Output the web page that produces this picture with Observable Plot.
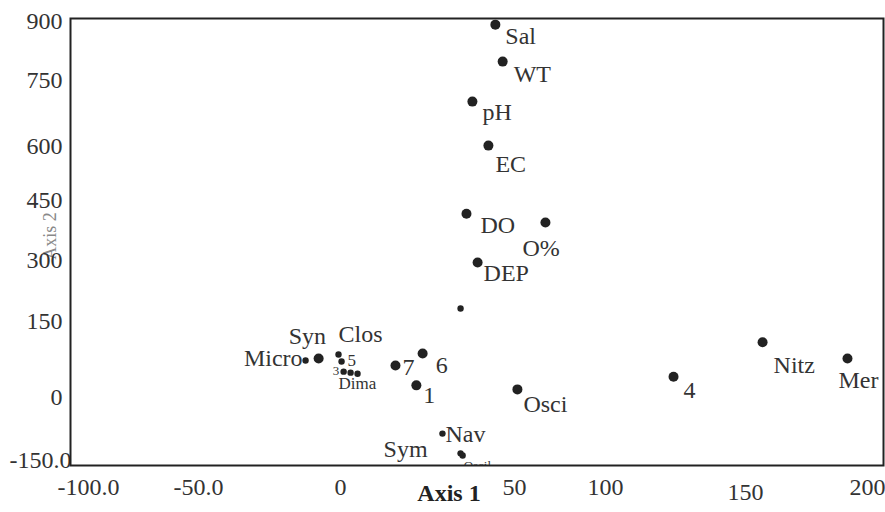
<!DOCTYPE html>
<html>
<head>
<meta charset="utf-8">
<script src="https://cdn.jsdelivr.net/npm/d3@7"></script>
<script src="https://cdn.jsdelivr.net/npm/@observablehq/plot@0.6"></script>
<style>
  html, body { margin: 0; padding: 0; background: white; }
</style>
</head>
<body>
<div id="chart"></div>
<script>
// ---- data ----
const names = ["Sal","WT","pH","EC","DO","O%","DEP","","Osci","4","Nitz","Mer","Micro","Syn","Clos","5","3","Dima","","7","6","1","Nav","Sym","Oscil"];
const axis1 = [44.5,46.6,37.9,42.5,36.2,67,39.4,34.5,51.6,124.3,157,191.8,-12.3,-7.7,-0.7,0.3,0.9,2.9,4.9,15.8,23.6,21.8,29.3,34.5,35.1];
const axis2 = [892,798,702,602,417,395,295,182,16,41,109,77,73,77,85,71,51,49,47,63,87,24,-86,-133,-138];
const xTicks = [-100,-50,0,50,100,150,200];
const xTickLabels = ["-100.0","-50.0","0","50","100","150","200"];
const yTicks = [-150,0,150,300,450,600,750,900];
const yTickLabels = ["-150.0","0","150","300","450","600","750","900"];

const points = names.map((name, i) => ({name, a1: axis1[i], a2: axis2[i]}));

// ---- label styling ----
const labelLayout = {
  "Sal": {dx: 10, dy: 12}, "WT": {dx: 11, dy: 13}, "pH": {dx: 10, dy: 11},
  "EC": {dx: 7, dy: 19}, "DO": {dx: 14, dy: 12}, "O%": {dx: -23, dy: 26},
  "DEP": {dx: 6, dy: 11}, "Osci": {dx: 6, dy: 15}, "4": {dx: 10, dy: 14},
  "Nitz": {dx: 11, dy: 23}, "Mer": {dx: -9, dy: 22},
  "Micro": {dx: -3, dy: -2, anchor: "end"}, "Syn": {dx: -30, dy: -22},
  "Clos": {dx: 0, dy: -20}, "5": {dx: 6, dy: -1, size: 17},
  "3": {dx: -11, dy: -1, size: 13}, "Dima": {dx: -12, dy: 11, size: 17},
  "7": {dx: 7, dy: 2}, "6": {dx: 13, dy: 12}, "1": {dx: 7, dy: 10},
  "Nav": {dx: 3, dy: 1}, "Sym": {dx: -33, dy: -4, anchor: "end"},
  "Oscil": {dx: 1, dy: 10, size: 13, clip: true}
};
const smallDots = new Set(["Micro","Clos","5","3","Dima","","Nav","Sym","Oscil"]);

const xLab = new Map(xTicks.map((t, i) => [t, xTickLabels[i]]));
const yLab = new Map(yTicks.map((t, i) => [t, yTickLabels[i]]));

const labelMarks = points.filter(p => p.name && labelLayout[p.name]).map(p => {
  const L = labelLayout[p.name];
  return Plot.text([p], {
    x: "a1", y: "a2", text: "name",
    dx: L.dx, dy: L.dy,
    textAnchor: L.anchor || "start",
    fontSize: L.size || 24,
    fill: "#333",
    clip: !!L.clip
  });
});

const chart = Plot.plot({
  width: 885,
  height: 512,
  marginLeft: 70,
  marginRight: 2,
  marginTop: 18,
  marginBottom: 47,
  style: {fontFamily: "'Liberation Serif', 'DejaVu Serif', serif", fontSize: "24px", background: "white", color: "#333"},
  x: {type: "linear", domain: xTicks, range: [88, 198, 340, 514, 605, 745, 867], axis: null},
  y: {type: "linear", domain: yTicks, range: [460, 397, 321, 260, 200, 146, 80, 21], axis: null},
  marks: [
    Plot.text(["Axis 2"], {frameAnchor: "left", textAnchor: "middle", dx: -20, dy: -6, rotate: -90, fontSize: 18, fill: "#888"}),
    Plot.axisY(yTicks.filter(v => v !== -150), {tickFormat: v => yLab.get(v), tickSize: 0, tickPadding: 8, fontSize: 24, fill: "#333", label: null}),
    Plot.axisY([-150], {tickFormat: v => yLab.get(v), tickSize: 0, tickPadding: -1, fontSize: 24, fill: "#333", label: null}),
    Plot.axisX(xTicks.filter(v => v !== 150), {tickFormat: v => xLab.get(v), tickSize: 0, tickPadding: 12, fontSize: 24, fill: "#333", label: null}),
    Plot.axisX([150], {tickFormat: v => xLab.get(v), tickSize: 0, tickPadding: 17, fontSize: 24, fill: "#333", label: null}),
    Plot.text(["Axis 1"], {frameAnchor: "bottom", dx: -28, dy: 35, fontSize: 24, fontWeight: "bold", fill: "#222"}),
    Plot.frame({stroke: "#222", strokeWidth: 2}),
    Plot.dot(points.filter(p => !smallDots.has(p.name)), {x: "a1", y: "a2", r: 5, fill: "#222", stroke: "none"}),
    Plot.dot(points.filter(p => smallDots.has(p.name)), {x: "a1", y: "a2", r: 3.2, fill: "#222", stroke: "none"}),
    ...labelMarks
  ]
});
document.getElementById("chart").appendChild(chart);
</script>
</body>
</html>
